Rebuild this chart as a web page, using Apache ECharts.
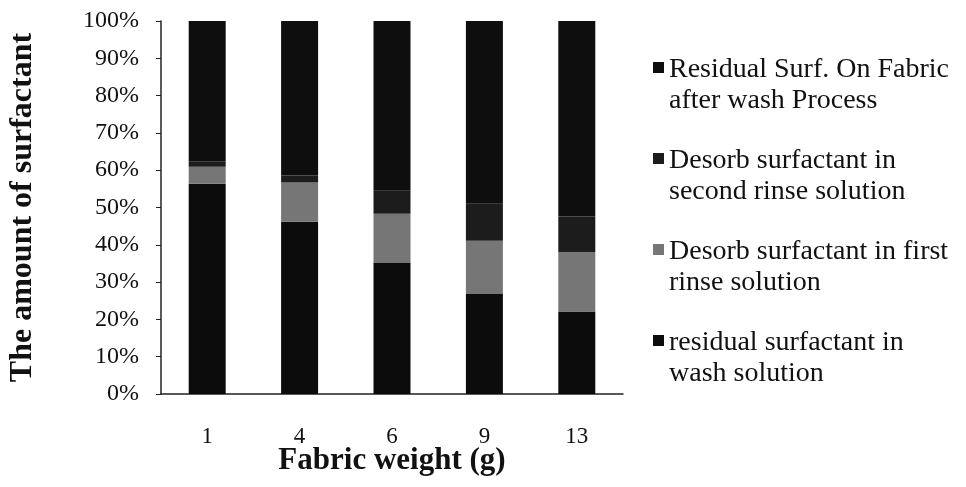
<!DOCTYPE html>
<html><head><meta charset="utf-8">
<script src="https://cdn.jsdelivr.net/npm/echarts@6/dist/echarts.min.js"></script>
<style>html,body{margin:0;padding:0;background:#fff}#c{width:966px;height:487px}</style>
</head><body><div id="c"></div>
<script>
const categories = ['1', '4', '6', '9', '13'];
const washSolution = [56.4, 46.2, 35.1, 26.8, 22.1];
const firstRinse = [4.5, 10.5, 13.2, 14.3, 15.9];
const secondRinse = [1.5, 1.9, 6.2, 9.9, 9.6];
const residualFabric = [37.6, 41.4, 45.5, 49.0, 52.4];
const yTicks = [0, 10, 20, 30, 40, 50, 60, 70, 80, 90, 100];
const seriesNames = [
  'residual surfactant in\nwash solution',
  'Desorb surfactant in first\nrinse solution',
  'Desorb surfactant in\nsecond rinse solution',
  'Residual Surf. On Fabric\nafter wash Process'
];
const colors = ['#0c0c0c', '#767676', '#1c1c1c', '#0e0e0e'];
const dataSets = [washSolution, firstRinse, secondRinse, residualFabric];
const font = 'Liberation Serif, Times New Roman, serif';
const legendIcon = 'path://M0,0h0.01v0.01h-0.01z M0,8h11v11h-11z M0,62h0.01v0.01h-0.01z';
const chart = echarts.init(document.getElementById('c'), null, {renderer: 'canvas'});
chart.setOption({
  animation: false,
  textStyle: {fontFamily: font},
  grid: {left: 161, right: 343, top: 21, bottom: 93, outerBoundsMode: 'none', containLabel: false},
  legend: {
    orient: 'vertical', left: 648, top: 49,
    data: [seriesNames[3], seriesNames[2], seriesNames[1], seriesNames[0]],
    itemWidth: 11, itemHeight: 62, itemGap: 29, icon: legendIcon,
    textStyle: {fontFamily: font, fontSize: 28, color: '#111', lineHeight: 31},
    selectedMode: false
  },
  xAxis: {
    type: 'category', data: categories,
    name: 'Fabric weight (g)', nameLocation: 'middle', nameGap: 51, nameMoveOverlap: false,
    nameTextStyle: {fontFamily: font, fontSize: 31, fontWeight: 'bold', color: '#111'},
    axisLine: {lineStyle: {color: '#222', width: 1.5}},
    axisTick: {alignWithLabel: true, length: 5, lineStyle: {color: '#222'}},
    axisLabel: {fontFamily: font, fontSize: 23, color: '#111', margin: 31}
  },
  yAxis: {
    type: 'value', min: 0, max: 100, interval: 10,
    name: 'The amount of surfactant', nameLocation: 'middle', nameGap: 122, nameMoveOverlap: false,
    nameTextStyle: {fontFamily: font, fontSize: 32, fontWeight: 'bold', color: '#111'},
    axisLine: {show: true, lineStyle: {color: '#222', width: 1.5}},
    axisTick: {show: true, length: 5, lineStyle: {color: '#222'}},
    splitLine: {show: false},
    axisLabel: {fontFamily: font, fontSize: 24, color: '#111', margin: 22,
      formatter: v => yTicks.includes(v) ? v + '%' : ''}
  },
  series: dataSets.map((d, i) => ({
    name: seriesNames[i], type: 'bar', stack: 'all', data: d,
    barWidth: 37, itemStyle: {color: colors[i]}
  }))
});
</script></body></html>
